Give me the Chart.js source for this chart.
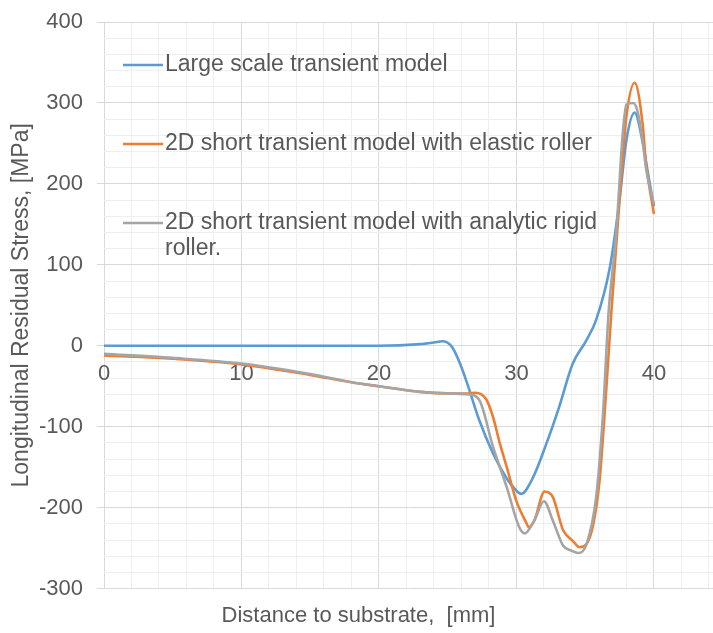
<!DOCTYPE html>
<html>
<head>
<meta charset="utf-8">
<script src="https://cdn.jsdelivr.net/npm/chart.js@4/dist/chart.umd.min.js"></script>
<style>
    html, body { margin: 0; padding: 0; background: #fff; }
    #wrap { width: 713px; height: 633px; }
</style>
</head>
<body>
<div id="wrap"><canvas id="stress-chart"></canvas></div>
<script>
// Series labels
const seriesNames = [
    'Large scale transient model',
    '2D short transient model with elastic roller',
    '2D short transient model with analytic rigid roller.'
];

// Large scale transient model
const largeX = [0, 5, 10, 15, 20, 23, 24, 24.6, 25.3, 25.8, 26.35, 27.3, 28.3, 29.26, 30.0, 30.35, 31.2, 32.2, 33.1, 34.1, 35.1, 35.8, 36.8, 37.5, 38.0, 38.6, 39.2, 39.5, 40];
const largeY = [0, 0, 0, 0, 0, 2, 4, 5.5, -1, -18, -43, -92, -133, -163, -179, -183, -163, -120, -76, -22, 7, 32, 97, 180, 254, 288, 250, 220, 172];

// 2D short transient model with elastic roller
const elasticX = [0, 5, 10, 15, 18, 20, 23, 25.4, 26.5, 27.0, 27.8, 28.3, 28.8, 29.3, 30.0, 30.7, 30.9, 31.3, 32.05, 32.65, 33.4, 34.1, 34.6, 35.1, 35.6, 36.05, 36.5, 36.9, 37.5, 38.0, 38.6, 39.2, 39.4, 40];
const elasticY = [-12, -16, -23, -36, -45, -50, -57, -59, -59, -58, -66, -88, -121, -150, -192, -218, -224, -216, -180, -187, -228, -241, -249, -245, -220, -166, -63, 40, 180, 283, 325, 271, 230, 163];

// 2D short transient model with analytic rigid roller
const rigidX = [0, 5, 10, 15, 18, 20, 23, 25.4, 26.5, 27.3, 28.3, 29.3, 30.2, 30.6, 31.3, 32.0, 32.65, 33.4, 34.0, 34.5, 35.1, 35.8, 36.3, 36.7, 37.26, 37.74, 38.0, 38.5, 38.85, 39.2, 39.45, 40];
const rigidY = [-10, -15, -22, -35, -45, -50, -57, -59, -60, -67, -125, -175, -224, -232, -216, -192, -216, -247, -253, -256, -245, -187, -84, 40, 139, 263, 298, 300, 287, 250, 217, 175];

// Axis ranges / ticks
const xMin = 0, xMax = 44.3, xMinorStep = 2, xMajorStep = 10;
const yMin = -300, yMax = 400, yMinorStep = 20, yMajorStep = 100;

const seriesColors = ['#5b9bd5', '#ed7d31', '#a5a5a5'];
const textColor = '#595959';
const fontFamily = '"Liberation Sans", Arial, sans-serif';

function toPoints(xs, ys) {
    return xs.map((x, i) => ({ x: x, y: ys[i] }));
}

function isMajor(value, step) {
    return Math.abs(value % step) < 1e-6;
}

// Legend drawn inside the plot, with word wrap for long labels
const insideLegend = {
    id: 'insideLegend',
    afterDraw(chart) {
        const ctx = chart.ctx;
        const x0 = 123, lineLen = 40, textX = 165, maxWidth = 440;
        const rows = [65, 144, 223];
        const lineHeight = 26;
        ctx.save();
        ctx.font = '23px ' + fontFamily;
        ctx.textBaseline = 'middle';
        chart.data.datasets.forEach((ds, i) => {
            const y = rows[i];
            ctx.strokeStyle = ds.borderColor;
            ctx.lineWidth = 2.5;
            ctx.beginPath();
            ctx.moveTo(x0, y);
            ctx.lineTo(x0 + lineLen, y);
            ctx.stroke();

            ctx.fillStyle = textColor;
            const words = ds.label.split(' ');
            let line = '';
            let ly = y;
            words.forEach(w => {
                const test = line ? line + ' ' + w : w;
                if (ctx.measureText(test).width > maxWidth && line) {
                    ctx.fillText(line, textX, ly);
                    line = w;
                    ly += lineHeight;
                } else {
                    line = test;
                }
            });
            ctx.fillText(line, textX, ly);
        });
        ctx.restore();
    }
};

const chart = new Chart(document.getElementById('stress-chart'), {
    type: 'line',
    data: {
        datasets: [
            {
                label: seriesNames[0],
                data: toPoints(largeX, largeY),
                borderColor: seriesColors[0],
                order: 2
            },
            {
                label: seriesNames[1],
                data: toPoints(elasticX, elasticY),
                borderColor: seriesColors[1],
                order: 1
            },
            {
                label: seriesNames[2],
                data: toPoints(rigidX, rigidY),
                borderColor: seriesColors[2],
                order: 0
            }
        ]
    },
    options: {
        responsive: true,
        maintainAspectRatio: false,
        animation: false,
        elements: {
            point: { radius: 0 },
            line: { borderWidth: 2.6, cubicInterpolationMode: 'monotone', fill: false }
        },
        layout: {
            padding: { top: 22, right: 0, bottom: 2, left: 4 }
        },
        plugins: {
            legend: { display: false },
            tooltip: { enabled: false },
            title: {
                display: true,
                position: 'bottom',
                text: 'Distance to substrate,  [mm]',
                color: textColor,
                font: { family: fontFamily, size: 22, weight: 'normal' },
                padding: { top: 14, bottom: 2 }
            }
        },
        scales: {
            x: {
                type: 'linear',
                position: { y: 0 },
                min: xMin,
                max: xMax,
                border: { display: false },
                afterFit: scale => {
                    scale.paddingLeft = 0;
                    scale.paddingRight = 0;
                },
                grid: {
                    drawTicks: false,
                    color: ctx => isMajor(ctx.tick.value, xMajorStep) ? '#d9d9d9' : '#efefef',
                    lineWidth: 1
                },
                ticks: {
                    stepSize: xMinorStep,
                    includeBounds: false,
                    autoSkip: false,
                    maxRotation: 0,
                    padding: 15,
                    color: textColor,
                    font: { family: fontFamily, size: 22 },
                    callback: v => isMajor(v, xMajorStep) ? String(v) : ''
                }
            },
            y: {
                type: 'linear',
                min: yMin,
                max: yMax,
                border: { display: false },
                afterFit: scale => {
                    scale.width = 100;
                    scale.paddingTop = 0;
                    scale.paddingBottom = 0;
                },
                grid: {
                    tickLength: 7,
                    color: ctx => isMajor(ctx.tick.value, yMajorStep) ? '#d9d9d9' : '#efefef',
                    tickColor: ctx => isMajor(ctx.tick.value, yMajorStep) ? '#d9d9d9' : 'rgba(0,0,0,0)',
                    lineWidth: 1
                },
                ticks: {
                    stepSize: yMinorStep,
                    autoSkip: false,
                    padding: 14,
                    color: textColor,
                    font: { family: fontFamily, size: 22 },
                    callback: v => isMajor(v, yMajorStep) ? String(v) : ''
                },
                title: {
                    display: true,
                    text: 'Longitudinal Residual Stress, [MPa]',
                    color: textColor,
                    font: { family: fontFamily, size: 23 },
                    padding: { top: 4, bottom: 4 }
                }
            }
        }
    },
    plugins: [insideLegend]
});
</script>
</body>
</html>
